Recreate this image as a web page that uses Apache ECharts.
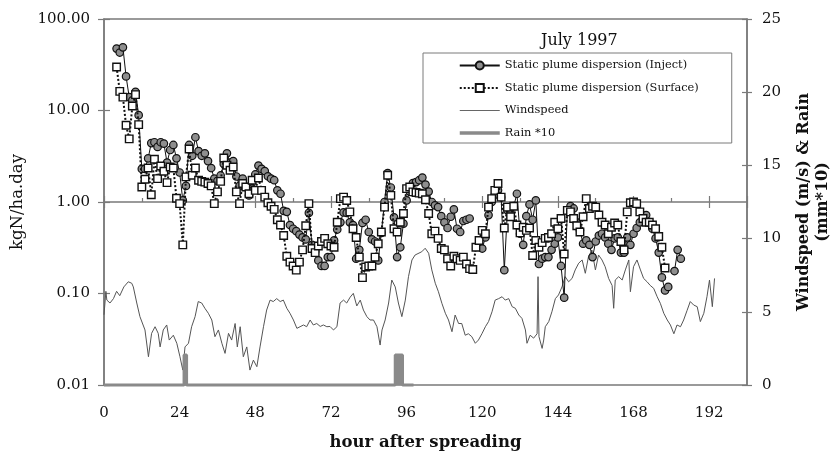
<!DOCTYPE html>
<html><head><meta charset="utf-8">
<script src="https://cdn.jsdelivr.net/npm/echarts@6/dist/echarts.min.js"></script>
<style>html,body{margin:0;padding:0;background:#fff}#c{width:831px;height:453px}</style>
</head><body><div id="c"></div>
<script>
// ---- data ----
const seriesNames = ['Static plume dispersion (Inject)', 'Static plume dispersion (Surface)', 'Windspeed', 'Rain *10'];
const injectStartHour = 4;
const inject = [
  47.5, 43, 49, 23.6, 14, 12.9, 16, 8.9, 2.3, 2.3,
  3.0, 4.4, 4.5, 4.0, 4.5, 4.35, 2.7, 3.7, 4.2, 3.0,
  2.1, 1.04, 1.5, 4.2, 3.2, 5.1, 3.6, 3.2, 3.4, 2.8,
  2.35, 1.8, 1.7, 1.95, 2.6, 3.4, 2.7, 2.8, 1.9, 1.5,
  1.8, 1.46, 1.18, 1.4, 2.0, 2.5, 2.3, 2.18, 1.91, 1.8,
  1.73, 1.34, 1.23, 0.80, 0.78, 0.56, 0.51, 0.48, 0.44, 0.41,
  0.39, 0.76, 0.34, 0.29, 0.23, 0.20, 0.20, 0.25, 0.25, 0.38,
  0.5, 0.60, 0.77, 0.76, 0.6, 0.56, 0.24, 0.30, 0.59, 0.64,
  0.47, 0.39, 0.37, 0.23, 0.46, 1.0, 2.07, 1.44, 0.68, 0.25,
  0.32, 0.58, 1.04, 1.3, 1.61, 1.65, 1.73, 1.85, 1.55, 1.30,
  1.0, 0.92, 0.88, 0.7, 0.6, 0.52, 0.69, 0.83, 0.51, 0.47,
  0.62, 0.64, 0.66, null, null, null, 0.31, 0.41, 0.72, 1.0,
  1.2, 1.34, 1.13, 0.18, 0.81, 0.75, 0.90, 1.23, 0.45, 0.34,
  0.7, 0.94, 0.64, 1.04, 0.21, 0.24, 0.25, 0.25, 0.3, 0.35,
  0.41, 0.2, 0.09, 0.8, 0.9, 0.85, 0.6, 0.49, 0.35, 0.38,
  0.34, 0.25, 0.37, 0.43, 0.45, 0.41, 0.35, 0.30, 0.40, 0.41,
  0.28, 0.28, 0.41, 0.34, 0.45, 0.52, 0.60, 0.66, 0.72, 0.60,
  0.51, 0.40, 0.28, 0.15, 0.108, 0.118, null, 0.176, 0.30, 0.24
];
const surfaceStartHour = 4;
const surface = [
  29.9, 16.2, 14.0, 6.9, 4.9, 11.2, 14.9, 7.0, 1.46, 1.77,
  2.35, 1.2, 2.93, 1.8, 2.47, 2.17, 1.63, 2.41, 2.35, 1.1,
  0.96, 0.34, 1.88, 3.8, 1.96, 2.35, 1.73, 1.68, 1.65, 1.59,
  1.5, 0.96, 1.29, 1.68, 3.03, 2.52, 2.22, 2.41, 1.29, 0.96,
  1.59, 1.46, 1.23, 1.73, 1.34, 1.83, 1.34, 1.13, 0.98, 0.9,
  0.83, 0.64, 0.56, 0.43, 0.255, 0.22, 0.20, 0.18, 0.22, 0.30,
  0.55, 0.96, 0.31, 0.28, 0.33, 0.37, 0.40, 0.35, 0.33, 0.32,
  0.60, 1.09, 1.13, 1.04, 0.78, 0.51, 0.41, 0.25, 0.149, 0.195,
  0.20, 0.20, 0.25, 0.35, 0.47, 0.88, 1.96, 1.18, 0.51, 0.47,
  0.6, 0.75, 1.40, 1.46, 1.29, 1.27, 1.25, 1.23, 1.06, 0.75,
  0.45, 0.48, 0.40, 0.31, 0.30, 0.24, 0.20, 0.255, 0.24, 0.23,
  0.25, 0.21, 0.187, 0.183, 0.32, 0.38, 0.49, 0.45, 0.88, 1.09,
  1.34, 1.59, 1.13, 0.52, 0.88, 0.69, 0.90, 0.56, 0.46, 0.53,
  0.49, 0.52, 0.26, 0.38, 0.32, 0.36, 0.40, 0.41, 0.45, 0.60,
  0.51, 0.66, 0.27, 0.81, 0.78, 0.66, 0.55, 0.47, 0.69, 1.09,
  0.85, 0.9, 0.88, 0.72, 0.60, 0.56, 0.45, 0.53, 0.59, 0.56,
  0.37, 0.30, 0.78, 0.98, 1.0, 0.96, 0.78, 0.66, 0.60, 0.60,
  0.56, 0.51, 0.42, 0.32, 0.19
];
const windHours = [
  0, 0.6, 0.9, 1.9, 3, 4, 5, 6.3, 7.7, 8.8, 9.3, 10.4, 11.4, 13, 14.1, 15.1, 16.2, 17.2, 17.8, 18.8,
  19.9, 20.7, 22, 23.1, 24.1, 25, 25.7, 26.8, 27.8, 28.9, 29.9, 31, 32, 33.1, 34.2, 35.2, 36.3, 37.4, 38.4, 39.5,
  40.5, 41.6, 42.3, 43.2, 44.2, 45.3, 46.3, 47.4, 48.5, 49.5, 50.6, 51.6, 52.7, 53.7, 54.8, 55.9, 56.9, 58, 59, 60.1,
  61.2, 62.2, 63.3, 64.3, 65.4, 66.4, 67.5, 68.6, 69.6, 70.7, 71.7, 72.8, 73.9, 74.9, 76, 77, 78.1, 79.1, 80.2, 81.3,
  82.3, 83.4, 84.4, 85.5, 86.6, 87.6, 88.2, 89.2, 90.3, 91.3, 92.4, 93.4, 94.5, 95.6, 96.6, 97.7, 98.7, 99.3, 100.8, 101.9,
  103, 104, 105.1, 106.1, 107.2, 108.3, 109.3, 110.4, 111.4, 112.5, 113.5, 114.6, 115.6, 116.7, 117.8, 118.8, 119.9, 121, 122, 123.1,
  124.1, 125.2, 126.3, 127.3, 128.4, 129.5, 130.5, 131.6, 132.6, 133.7, 134.2, 135.2, 136.3, 137.4, 137.7, 138, 139, 139.5, 140, 141.1,
  142.1, 143.2, 144.2, 145.3, 146.3, 147.4, 148.5, 149.5, 150.6, 151.7, 152.7, 153.7, 154.8, 155.9, 156.9, 158, 159, 160.1, 161.2, 161.7,
  162.2, 163.3, 164.4, 165.4, 166.5, 167, 168, 169.1, 170.2, 171.2, 172.3, 173.3, 174.4, 175.5, 176.5, 177.6, 178.7, 179.7, 180.8, 181.8,
  182.9, 183.9, 185, 186, 187.1, 188.2, 189.2, 190.3, 191.3, 192.1, 193, 193.7
];
const windSpeed = [
  4.8, 6.4, 5.8, 5.6, 5.9, 6.4, 6.1, 6.7, 7.05, 6.95, 6.7, 5.6, 4.67, 3.76, 1.93, 3.53, 3.98, 3.53, 2.6, 3.76,
  4.1, 3.07, 3.4, 2.85, 1.93, 1.02, 2.6, 2.85, 3.98, 4.67, 5.7, 5.6, 5.24, 4.9, 4.44, 3.3, 3.76, 2.85, 2.16, 3.53,
  3.07, 4.2, 2.6, 3.98, 1.93, 2.6, 1.02, 1.7, 1.25, 2.6, 3.98, 5.12, 5.8, 5.7, 5.9, 5.7, 5.8, 5.24, 4.9, 4.44,
  3.87, 3.98, 4.1, 3.98, 4.44, 4.1, 4.2, 4.0, 4.1, 3.98, 4.0, 3.76, 3.98, 5.6, 5.8, 5.6, 6.0, 6.26, 5.4, 5.8,
  5.12, 4.67, 4.44, 4.44, 3.98, 2.73, 3.76, 4.44, 5.6, 7.17, 6.7, 5.6, 4.67, 5.8, 7.4, 8.54, 8.88, 9.0, 9.1, 9.34,
  9.0, 7.86, 6.95, 6.37, 5.58, 4.9, 4.44, 3.64, 4.78, 4.2, 4.2, 3.4, 3.5, 3.3, 2.85, 3.07, 3.5, 3.98, 4.33, 5.0,
  5.8, 5.9, 6.03, 5.8, 5.9, 5.35, 5.24, 4.78, 4.55, 3.76, 2.85, 3.4, 3.2, 3.5, 7.4, 3.3, 2.5, 3.07, 3.98, 4.33,
  5.0, 5.9, 6.15, 6.7, 7.4, 7.05, 7.28, 7.86, 8.32, 8.54, 7.63, 8.76, 9.22, 7.86, 8.88, 8.54, 8.08, 7.28, 6.8, 5.24,
  7.17, 7.4, 7.17, 7.86, 8.54, 6.37, 8.08, 8.54, 7.86, 7.28, 7.05, 6.8, 6.6, 6.03, 5.58, 4.9, 4.44, 4.1, 3.5, 4.1,
  3.98, 4.44, 5.1, 5.7, 5.46, 5.35, 4.33, 4.9, 6.03, 7.17, 5.35, 7.28
];
const rainHours = [0, 25.4, 25.4, 26.2, 26.2, 92.4, 92.4, 94.7, 94.7, 98.2];
const rainTimes10 = [0, 0, 2.05, 2.05, 0, 0, 2.05, 2.05, 0, 0];
const xTickLabels = [0, 24, 48, 72, 96, 120, 144, 168, 192];
const leftTickLabels = ['0.01', '0.10', '1.00', '10.00', '100.00'];
const rightTickLabels = [0, 5, 10, 15, 20, 25];

// ---- build ----
const FONT = 'DejaVu Serif';
const GRAY = '#7a7a7a';
const pairs = (start, arr) => arr.map((v, i) => [start + i, v === null ? '-' : v]);
const zip = (xs, ys) => xs.map((x, i) => [x, ys[i]]);

const chart = echarts.init(document.getElementById('c'), null, {renderer: 'canvas'});
chart.setOption({
  animation: false,
  backgroundColor: '#fff',
  title: {
    text: 'July 1997', left: 536, top: 28,
    textStyle: {fontFamily: FONT, fontSize: 16, fontWeight: 'normal', color: '#111'}
  },
  legend: {
    orient: 'vertical', left: 423, top: 53,
    padding: [7, 33, 4.5, 35],
    itemWidth: 40, itemHeight: 10, itemGap: 11.5,
    backgroundColor: '#fff', borderColor: GRAY, borderWidth: 1,
    textStyle: {fontFamily: FONT, fontSize: 11.4, color: '#111'},
    data: [
      {name: seriesNames[0]},
      {name: seriesNames[1]},
      {name: seriesNames[2], itemStyle: {opacity: 0}, lineStyle: {width: 1, color: '#666'}},
      {name: seriesNames[3], itemStyle: {opacity: 0}, lineStyle: {width: 3.5, color: '#8a8a8a'}}
    ]
  },
  grid: [
    {left: 104, right: 84, top: 19, bottom: 68, containLabel: false, outerBoundsMode: 'none',
     show: true, borderColor: GRAY, borderWidth: 1.5, backgroundColor: 'transparent'},
    {left: 104, right: 84, top: 201, height: 1, containLabel: false, outerBoundsMode: 'none'}
  ],
  xAxis: [
    {
      type: 'value', gridIndex: 0, min: 0, max: 204, interval: 24,
      axisLine: {show: false}, axisTick: {show: false}, splitLine: {show: false},
      axisLabel: {
        margin: 21, fontFamily: FONT, fontSize: 15, color: '#111', showMaxLabel: false,
        formatter: v => (xTickLabels.indexOf(v) >= 0 ? String(v) : '')
      },
      name: 'hour after spreading', nameLocation: 'middle', nameGap: 49,
      nameTextStyle: {fontFamily: FONT, fontSize: 16.5, fontWeight: 'bold', color: '#111'}
    },
    {
      type: 'value', gridIndex: 1, min: 0, max: 204, interval: 24, position: 'bottom',
      axisLine: {show: true, lineStyle: {color: GRAY, width: 1.5}},
      axisTick: {show: true, inside: true, length: 6, lineStyle: {color: GRAY, width: 1.2}},
      minorTick: {show: true, splitNumber: 2, length: 4, lineStyle: {color: GRAY, width: 1.2}},
      axisLabel: {show: false}, splitLine: {show: false}
    },
    {
      type: 'value', gridIndex: 1, min: 0, max: 204, interval: 24, position: 'bottom',
      axisLine: {show: false},
      axisTick: {show: true, inside: false, length: 6, lineStyle: {color: GRAY, width: 1.2}},
      axisLabel: {show: false}, splitLine: {show: false}
    }
  ],
  yAxis: [
    {
      type: 'log', logBase: 10, min: 0.01, max: 100, gridIndex: 0, position: 'left',
      axisLine: {show: true, lineStyle: {color: GRAY, width: 1.5}},
      axisTick: {show: true, length: 6, lineStyle: {color: GRAY, width: 1.2}},
      splitLine: {show: false},
      axisLabel: {
        margin: 14, fontFamily: FONT, fontSize: 15, color: '#111',
        formatter: v => leftTickLabels[Math.round(Math.log10(v)) + 2]
      },
      name: 'kgN/ha.day', nameLocation: 'middle', nameGap: 78,
      nameTextStyle: {fontFamily: FONT, fontSize: 16.5, color: '#111'}
    },
    {
      type: 'value', min: 0, max: 25, interval: 5, gridIndex: 0, position: 'right',
      axisLine: {show: true, lineStyle: {color: GRAY, width: 1.5}},
      axisTick: {show: true, length: 5, lineStyle: {color: GRAY, width: 1.2}},
      splitLine: {show: false},
      axisLabel: {
        margin: 15, fontFamily: FONT, fontSize: 15, color: '#111',
        formatter: v => (rightTickLabels.indexOf(v) >= 0 ? String(v) : '')
      },
      name: 'Windspeed (m/s) & Rain\n(mm*10)', nameLocation: 'middle', nameGap: 47,
      nameTextStyle: {fontFamily: FONT, fontSize: 16, fontWeight: 'bold', color: '#111', lineHeight: 19, align: 'center'}
    },
    {
      type: 'log', logBase: 10, min: 0.01, max: 100, gridIndex: 0, position: 'left',
      axisLine: {show: false},
      axisTick: {show: true, inside: true, length: 6, lineStyle: {color: GRAY, width: 1.2}},
      axisLabel: {show: false}, splitLine: {show: false}
    },
    {
      type: 'value', min: 0, max: 25, interval: 5, gridIndex: 0, position: 'right',
      axisLine: {show: false},
      axisTick: {show: true, inside: true, length: 5, lineStyle: {color: GRAY, width: 1.2}},
      axisLabel: {show: false}, splitLine: {show: false}
    },
    {type: 'value', gridIndex: 1, min: 0, max: 1, show: false}
  ],
  series: [
    {
      name: seriesNames[0], type: 'line', xAxisIndex: 0, yAxisIndex: 0,
      data: pairs(injectStartHour, inject), connectNulls: false,
      symbol: 'circle', symbolSize: 7.5, showSymbol: true,
      lineStyle: {color: '#111', width: 1},
      itemStyle: {color: '#8e8e8e', borderColor: '#111', borderWidth: 1.2},
      z: 3
    },
    {
      name: seriesNames[1], type: 'line', xAxisIndex: 0, yAxisIndex: 0,
      data: pairs(surfaceStartHour, surface), connectNulls: false,
      symbol: 'rect', symbolSize: 7.5, showSymbol: true,
      lineStyle: {color: '#111', width: 2, type: [2, 2]},
      itemStyle: {color: '#fff', borderColor: '#111', borderWidth: 1.4},
      z: 4
    },
    {
      name: seriesNames[2], type: 'line', xAxisIndex: 0, yAxisIndex: 1,
      data: zip(windHours, windSpeed), symbol: 'none',
      lineStyle: {color: '#555', width: 1},
      itemStyle: {color: '#555'},
      z: 2
    },
    {
      name: seriesNames[3], type: 'line', xAxisIndex: 0, yAxisIndex: 1,
      data: zip(rainHours, rainTimes10), symbol: 'none', clip: false,
      lineStyle: {color: '#8a8a8a', width: 3},
      areaStyle: {color: '#8a8a8a', opacity: 1},
      itemStyle: {color: '#8a8a8a'},
      z: 2
    }
  ]
});
</script></body></html>
